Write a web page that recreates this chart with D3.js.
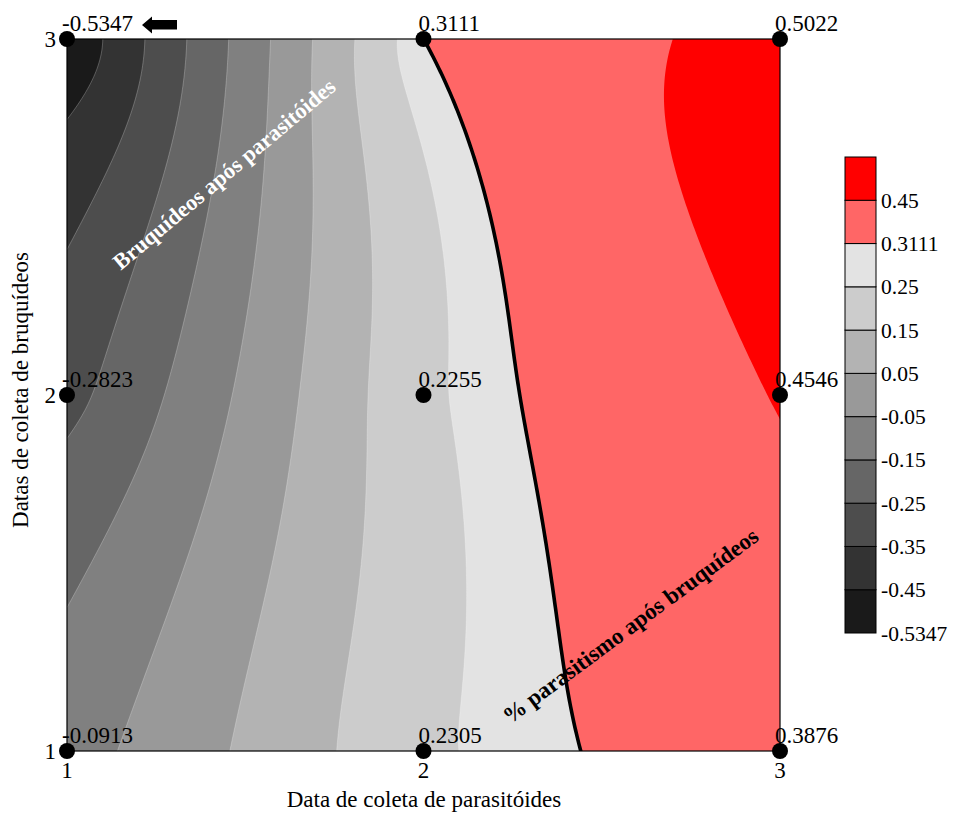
<!DOCTYPE html>
<html>
<head>
<meta charset="utf-8">
<script src="https://cdn.jsdelivr.net/npm/d3@7"></script>
<style>
  body { margin: 0; background: #fff; }
  svg { display: block; }
  text { font-family: "Liberation Serif", "Times New Roman", serif; fill: #000; }
</style>
</head>
<body>
<svg id="chart" width="954" height="819"></svg>
<script>
// Collection dates (axes)
const xCategories = [1, 2, 3];            // Data de coleta de parasitóides
const yCategories = [1, 2, 3];            // Datas de coleta de bruquídeos
const tickLabels = ["1", "2", "3"];

// Observed values, one array per bruchid collection date (columns: parasitoid date 1..3)
const valuesY1 = [-0.0913, 0.2305, 0.3876];
const valuesY2 = [-0.2823, 0.2255, 0.4546];
const valuesY3 = [-0.5347, 0.3111, 0.5022];

// Contour levels (lower bounds of each band) and their fills
const levels = [-0.5347, -0.45, -0.35, -0.25, -0.15, -0.05, 0.05, 0.15, 0.25, 0.3111, 0.45];
const levelLabels = ["-0.5347", "-0.45", "-0.35", "-0.25", "-0.15", "-0.05", "0.05", "0.15", "0.25", "0.3111", "0.45"];
const levelColors = ["#1a1a1a", "#333333", "#4d4d4d", "#666666", "#808080", "#999999",
                     "#b3b3b3", "#cccccc", "#e3e3e3", "#ff6666", "#ff0000"];
const boundaryLevel = 0.3111;

const svg = d3.select("#chart");
const plot = { left: 67, right: 780, top: 39, bottom: 751 };

const x = d3.scaleLinear().domain([1, 3]).range([plot.left, plot.right]);
const y = d3.scaleLinear().domain([1, 3]).range([plot.bottom, plot.top]);

// ---- Gridded surface: ordinary kriging with a linear variogram ----
const rows = [valuesY1, valuesY2, valuesY3];
const pts = [];
yCategories.forEach((yv, j) => xCategories.forEach((xv, i) => pts.push({ x: xv, y: yv, v: rows[j][i] })));

const variogram = h => h;
const N = pts.length, M = N + 1;
const A = Array.from({ length: M }, () => new Array(M + 1).fill(0));
for (let i = 0; i < N; i++) {
  for (let j = 0; j < N; j++) A[i][j] = variogram(Math.hypot(pts[i].x - pts[j].x, pts[i].y - pts[j].y));
  A[i][N] = 1; A[N][i] = 1;
  A[i][M] = pts[i].v;
}
for (let c = 0; c < M; c++) {
  let p = c;
  for (let r = c + 1; r < M; r++) if (Math.abs(A[r][c]) > Math.abs(A[p][c])) p = r;
  [A[c], A[p]] = [A[p], A[c]];
  for (let r = 0; r < M; r++) {
    if (r === c) continue;
    const f = A[r][c] / A[c][c];
    for (let k = c; k <= M; k++) A[r][k] -= f * A[c][k];
  }
}
const coef = A.map((row, i) => row[M] / row[i]);
function surface(px, py) {
  let s = coef[N];
  for (let i = 0; i < N; i++) s += coef[i] * variogram(Math.hypot(px - pts[i].x, py - pts[i].y));
  return s;
}

const n = 241;
const gx = i => 1 + 2 * i / (n - 1);
const gy = j => 3 - 2 * j / (n - 1);
const grid = new Array(n * n);
for (let j = 0; j < n; j++) for (let i = 0; i < n; i++) grid[j * n + i] = surface(gx(i), gy(j));

// grid coordinates -> pixels
const toPixels = d3.geoTransform({
  point: function (cx, cy) {
    this.stream.point(x(1 + 2 * (cx - 0.5) / (n - 1)), y(3 - 2 * (cy - 0.5) / (n - 1)));
  }
});
const path = d3.geoPath(toPixels);

svg.append("clipPath").attr("id", "plot-clip")
  .append("rect")
  .attr("x", plot.left).attr("y", plot.top)
  .attr("width", plot.right - plot.left).attr("height", plot.bottom - plot.top);

const field = svg.append("g").attr("clip-path", "url(#plot-clip)");

field.append("rect")
  .attr("x", plot.left).attr("y", plot.top)
  .attr("width", plot.right - plot.left).attr("height", plot.bottom - plot.top)
  .attr("fill", levelColors[0]);

const contours = d3.contours().size([n, n]).thresholds(levels.slice(1))(grid);
field.selectAll("path.band")
  .data(contours)
  .join("path")
  .attr("class", "band")
  .attr("d", path)
  .attr("fill", (d, i) => levelColors[i + 1])
  .attr("stroke", d => d.value < 0.3 ? "rgba(255,255,255,0.35)" : "none")
  .attr("stroke-width", 0.7);

// Boundary contour (0.3111) as a heavy line
const boundaryPts = [];
for (let j = 0; j < n; j++) {
  for (let i = 0; i < n - 1; i++) {
    const a = grid[j * n + i], b = grid[j * n + i + 1];
    if ((a - boundaryLevel) * (b - boundaryLevel) <= 0 && a !== b) {
      const t = (boundaryLevel - a) / (b - a);
      boundaryPts.push([gx(i + t), gy(j)]);
      break;
    }
  }
}
field.append("path")
  .datum(boundaryPts)
  .attr("d", d3.line().x(d => x(d[0])).y(d => y(d[1])))
  .attr("fill", "none")
  .attr("stroke", "#000")
  .attr("stroke-width", 3.6)
  .attr("stroke-linecap", "round");

// Plot frame
svg.append("rect")
  .attr("x", plot.left).attr("y", plot.top)
  .attr("width", plot.right - plot.left).attr("height", plot.bottom - plot.top)
  .attr("fill", "none").attr("stroke", "#000").attr("stroke-width", 1.2);

// Region annotations
svg.append("text")
  .attr("transform", "translate(229,180) rotate(-40)")
  .attr("text-anchor", "middle")
  .style("font-weight", "bold").style("font-size", "22.5px").style("fill", "#fff")
  .text("Bruquídeos após parasitóides");

svg.append("text")
  .attr("transform", "translate(635,632) rotate(-36.5)")
  .attr("text-anchor", "middle")
  .style("font-weight", "bold").style("font-size", "23px").style("fill", "#000")
  .text("% parasitismo após bruquídeos");

// Observation points and their values
const obs = svg.append("g");
obs.selectAll("circle")
  .data(pts)
  .join("circle")
  .attr("cx", d => x(d.x)).attr("cy", d => y(d.y)).attr("r", 8)
  .attr("fill", "#000");
obs.selectAll("text")
  .data(pts)
  .join("text")
  .attr("x", d => x(d.x) - 5).attr("y", d => y(d.y) - 8)
  .style("font-size", "23px")
  .text(d => d.v.toFixed(4));

// Arrow beside the minimum
svg.append("path")
  .attr("d", "M142,25 L152,16.5 L152,20 L177,20 L177,29.5 L152,29.5 L152,33.5 Z")
  .attr("fill", "#000");

// Axes tick labels
svg.append("g").selectAll("text")
  .data(xCategories)
  .join("text")
  .attr("x", d => x(d)).attr("y", 778)
  .attr("text-anchor", "middle")
  .style("font-size", "23px")
  .text((d, i) => tickLabels[i]);

svg.append("g").selectAll("text")
  .data(yCategories)
  .join("text")
  .attr("x", 56).attr("y", d => y(d) + 8)
  .attr("text-anchor", "end")
  .style("font-size", "23px")
  .text((d, i) => tickLabels[i]);

// Axis titles
svg.append("text")
  .attr("x", 424).attr("y", 807)
  .attr("text-anchor", "middle")
  .style("font-size", "23px")
  .text("Data de coleta de parasitóides");

svg.append("text")
  .attr("transform", "translate(28,390) rotate(-90)")
  .attr("text-anchor", "middle")
  .style("font-size", "23px")
  .text("Datas de coleta de bruquídeos");

// Colour legend
const legend = { x: 845, width: 31, top: 157, bottom: 633 };
const ly = d3.scaleLinear().domain([0, levels.length]).range([legend.bottom, legend.top]);
const lg = svg.append("g");
lg.selectAll("rect")
  .data(levels)
  .join("rect")
  .attr("x", legend.x).attr("width", legend.width)
  .attr("y", (d, i) => ly(i + 1)).attr("height", (d, i) => ly(i) - ly(i + 1))
  .attr("fill", (d, i) => levelColors[i])
  .attr("stroke", "#000").attr("stroke-width", 1);
lg.selectAll("text")
  .data(levelLabels)
  .join("text")
  .attr("x", legend.x + legend.width + 5)
  .attr("y", (d, i) => ly(i) + 7.5)
  .style("font-size", "21.5px")
  .text(d => d);
</script>
</body>
</html>
